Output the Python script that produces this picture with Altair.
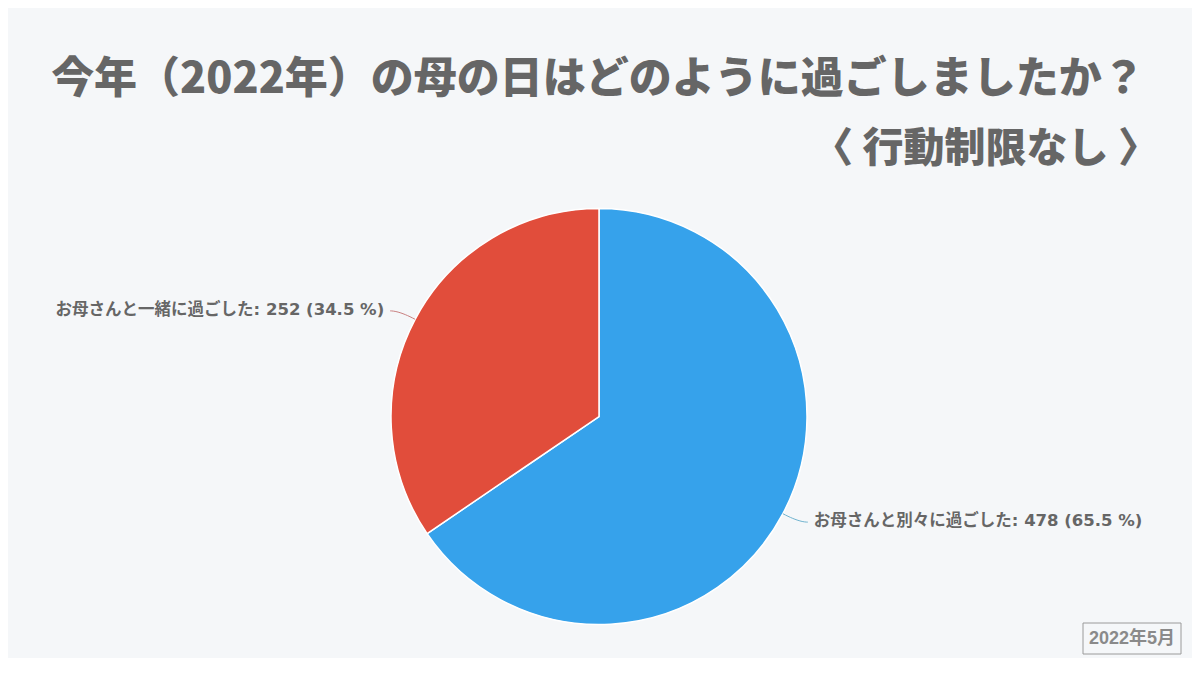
import math
import altair as alt
import pandas as pd

# ---- data ----
categories = ["お母さんと別々に過ごした", "お母さんと一緒に過ごした"]
counts = [478, 252]
colors = ["#36a2eb", "#e14d3b"]
line_colors = ["#6fb3cf", "#c98080"]
title_text = "今年（2022年）の母の日はどのように過ごしましたか？"
subtitle_text = "〈 行動制限なし 〉"
badge_text = "2022年5月"

# ---- layout (page pixels) ----
W, H = 1184, 650
OFF = 8
CX, CY, R = 599, 416.5, 208
BG = "#f5f7f9"
TXT = "#666666"

total = sum(counts)
rows = []
lines = []
start = 0.0
for i, (c, n) in enumerate(zip(categories, counts)):
    frac = n / total
    mid = (start + frac / 2) * 2 * math.pi
    start += frac
    dx, dy = math.sin(mid), -math.cos(mid)
    p0 = (CX + R * dx, CY + R * dy)
    p1 = (CX + (R + 18) * dx, CY + (R + 18) * dy)
    side = 1 if dx >= 0 else -1
    p2 = (p1[0] + side * 9, p1[1])
    for k in range(13):
        t = k / 12
        x = (1 - t) ** 2 * p0[0] + 2 * (1 - t) * t * p1[0] + t ** 2 * p2[0]
        y = (1 - t) ** 2 * p0[1] + 2 * (1 - t) * t * p1[1] + t ** 2 * p2[1]
        lines.append({"cat": c, "step": k, "x": x, "y": y, "lc": line_colors[i]})
    rows.append({
        "cat": c, "count": n, "order": i,
        "label": f"{c}: {n} ({frac * 100:.1f} %)",
        "tx": p2[0] + side * 6, "ty": p2[1] - 1,
        "side": "right" if side > 0 else "left",
    })

df = pd.DataFrame(rows)
ldf = pd.DataFrame(lines)

xs = alt.Scale(domain=[OFF, OFF + W], zero=False, nice=False)
ys = alt.Scale(domain=[OFF + H, OFF], zero=False, nice=False)

pie = alt.Chart(df).mark_arc(radius=R, stroke="white", strokeWidth=1.5).encode(
    theta=alt.Theta("count:Q", stack=True),
    color=alt.Color("cat:N", scale=alt.Scale(domain=categories, range=colors), legend=None),
    order=alt.Order("order:Q"),
    x=alt.value(CX - OFF),
    y=alt.value(CY - OFF),
)

leaders = alt.Chart(ldf).mark_line(strokeWidth=1).encode(
    x=alt.X("x:Q", scale=xs, axis=None),
    y=alt.Y("y:Q", scale=ys, axis=None),
    detail="cat:N",
    order="step:Q",
    color=alt.Color("lc:N", scale=None),
)

label_font = "DejaVu Sans, Noto Sans CJK JP"

def label_layer(side, align):
    return alt.Chart(df).transform_filter(alt.datum.side == side).mark_text(
        align=align, baseline="middle", font=label_font, fontSize=16.5,
        fontWeight="bold", color=TXT,
    ).encode(
        x=alt.X("tx:Q", scale=xs, axis=None),
        y=alt.Y("ty:Q", scale=ys, axis=None),
        text="label:N",
    )

one = pd.DataFrame({"t": [title_text], "s": [subtitle_text], "b": [badge_text]})

title = alt.Chart(one).mark_text(
    align="center", baseline="middle", font="Noto Sans CJK JP", fontSize=43,
    fontWeight=900, color=TXT,
).encode(x=alt.value(598 - OFF), y=alt.value(80 - OFF), text="t:N")

subtitle = alt.Chart(one).mark_text(
    align="right", baseline="middle", font="Noto Sans CJK JP", fontSize=41,
    fontWeight=900, color=TXT,
).encode(x=alt.value(1159 - OFF), y=alt.value(150 - OFF), text="s:N")

badge_box = alt.Chart(one).mark_rect(fill=BG, stroke="#9a9a9a", strokeWidth=1).encode(
    x=alt.value(1083 - OFF), x2=alt.value(1181 - OFF),
    y=alt.value(623 - OFF), y2=alt.value(654 - OFF),
)
badge_text_l = alt.Chart(one).mark_text(
    align="center", baseline="middle", font="Liberation Sans, Noto Sans CJK JP",
    fontSize=18, fontWeight="bold", color="#8a8a8a",
).encode(x=alt.value(1132 - OFF), y=alt.value(639 - OFF), text="b:N")

chart = alt.layer(
    pie, leaders, label_layer("left", "right"), label_layer("right", "left"),
    title, subtitle, badge_box, badge_text_l,
).properties(
    width=W, height=H, padding=0, background=BG,
    autosize=alt.AutoSizeParams(type="none"),
).configure_view(stroke=None)

chart.save("out.html", embed_options={"renderer": "svg", "actions": False})
